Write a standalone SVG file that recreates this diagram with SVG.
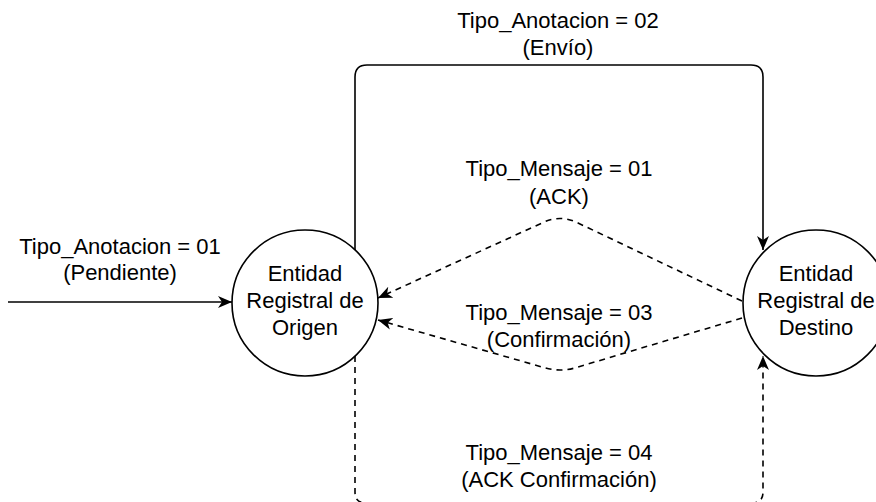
<svg xmlns="http://www.w3.org/2000/svg" width="876" height="502" viewBox="0 0 876 502">
<style>
text{font-family:"Liberation Sans",Arial,sans-serif;font-size:22px;fill:#000;text-anchor:middle}
.node{fill:#fff;stroke:#000;stroke-width:1.6}
.edge{fill:none;stroke:#000;stroke-width:1.6}
.dash{stroke-dasharray:6 5}
</style>
<defs>
<marker id="arr" viewBox="0 0 14 12" refX="14" refY="6" markerWidth="14" markerHeight="12" markerUnits="userSpaceOnUse" orient="auto">
<path d="M0,0 L14,6 L0,12 L4,6 Z" fill="#000"/>
</marker>
</defs>
<rect width="876" height="502" fill="#fff"/>
<g id="connectors">
<path class="edge" d="M8,302 L232,302" marker-end="url(#arr)"/>
<path class="edge" d="M355,251 L355,77 Q355,65 367,65 L751,65 Q763,65 763,77 L763,250" marker-end="url(#arr)"/>
<path class="edge dash" d="M742,301 L578,223 Q560,214 542,223 L378,298" marker-end="url(#arr)"/>
<path class="edge dash" d="M742,318 L578,367 Q560,373 542,367 L378,320" marker-end="url(#arr)"/>
<path class="edge dash" d="M355,356 L355,492 Q355,503 366,503 L752,503 Q763,503 763,492 L763,356" marker-end="url(#arr)"/>
</g>
<g id="labels">
<text x="120" y="254">Tipo_Anotacion = 01</text>
<text x="120" y="280">(Pendiente)</text>
<text x="558" y="28">Tipo_Anotacion = 02</text>
<text x="558" y="55">(Envío)</text>
<text x="559" y="176">Tipo_Mensaje = 01</text>
<text x="559" y="204">(ACK)</text>
<text x="559" y="320">Tipo_Mensaje = 03</text>
<text x="559" y="347">(Confirmación)</text>
<text x="559" y="460">Tipo_Mensaje = 04</text>
<text x="559" y="487">(ACK Confirmación)</text>
</g>
<g id="origen">
<circle class="node" cx="305" cy="303" r="73"/>
<text x="305" y="281">Entidad</text>
<text x="305" y="308">Registral de</text>
<text x="305" y="335">Origen</text>
</g>
<g id="destino">
<circle class="node" cx="816" cy="303" r="73"/>
<text x="816" y="281">Entidad</text>
<text x="816" y="308">Registral de</text>
<text x="816" y="335">Destino</text>
</g>
</svg>
